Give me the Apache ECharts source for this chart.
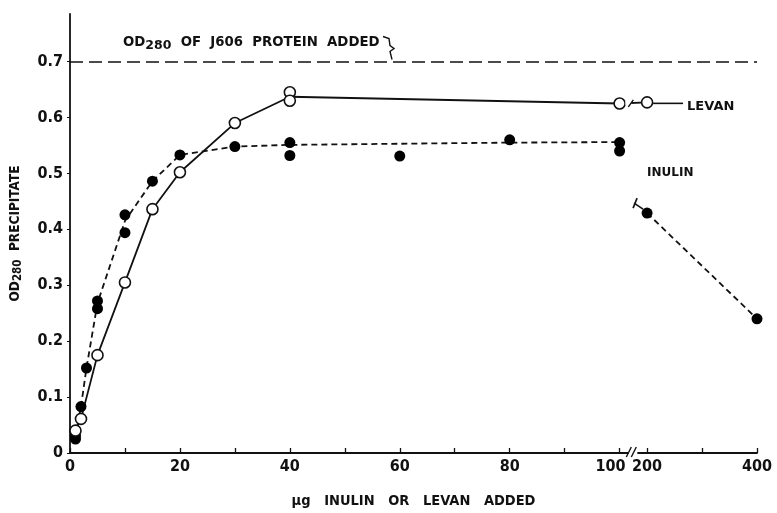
<!DOCTYPE html>
<html>
<head>
<meta charset="utf-8">
<script src="https://cdn.jsdelivr.net/npm/echarts@6/dist/echarts.min.js"></script>
<style>html,body{margin:0;padding:0;background:#fff}#c{width:777px;height:513px}</style>
</head>
<body>
<div id="c"></div>
<script>
// ---- data (x in µg, y in OD280) ----
const levanX = [1, 2, 5, 10, 15, 20, 30, 40, 40, 100, 200];
const levanY = [0.040, 0.061, 0.175, 0.305, 0.436, 0.502, 0.590, 0.645, 0.630, 0.625, 0.627];
const inulinX = [1, 1, 2, 3, 5, 5, 10, 10, 15, 20, 30, 40, 40, 60, 80, 100, 100, 200, 400];
const inulinY = [0.025, 0.031, 0.083, 0.152, 0.272, 0.258, 0.426, 0.394, 0.486, 0.533, 0.548, 0.555, 0.532, 0.531, 0.560, 0.555, 0.540, 0.429, 0.240];
// drawn curves
const levanCurveX = [1, 2, 5, 10, 15, 20, 30, 40, 100];
const levanCurveY = [0.040, 0.061, 0.175, 0.305, 0.436, 0.502, 0.590, 0.637, 0.625];
const levanBreakX = [100, 200];
const levanBreakY = [0.625, 0.627];
const inulinCurveX = [1, 2, 3, 5, 10, 15, 20, 30, 40, 60, 80, 100];
const inulinCurveY = [0.030, 0.083, 0.152, 0.268, 0.415, 0.486, 0.533, 0.548, 0.551, 0.553, 0.555, 0.556];
const inulinTailX = [200, 400];
const inulinTailY = [0.429, 0.240];
const proteinAdded = 0.7;
const xTickLabels = [0, 20, 40, 60, 80, 100, 200, 400];
const xMinorTicks = [10, 30, 50, 70, 90, 300];
const yTicks = [0, 0.1, 0.2, 0.3, 0.4, 0.5, 0.6, 0.7];

// broken x scale: 0..100 linear, then 200..400 compressed
function tx(x) { return x <= 100 ? x : 105 + (x - 200) / 10; }
function untx(t) { return t <= 100 ? t : 200 + (t - 105) * 10; }
function pts(xs, ys) { return xs.map((x, i) => [tx(x), ys[i]]); }

const FONT = 'DejaVu Sans';
const CFONT = 'DejaVu Sans Condensed';
const chart = echarts.init(document.getElementById('c'), null, {renderer: 'canvas'});

const option = {
  backgroundColor: '#fff',
  animation: false,
  grid: {left: 70, right: 20, top: 14, bottom: 60, outerBoundsMode: 'none', containLabel: false},
  xAxis: {
    type: 'value', min: 0, max: 125,
    name: 'µg   INULIN   OR   LEVAN   ADDED',
    nameLocation: 'middle', nameGap: 41,
    nameTextStyle: {fontFamily: CFONT, fontSize: 14.5, fontWeight: 'bold', color: '#111'},
    axisLine: {show: true, lineStyle: {color: '#111', width: 1.8}},
    axisTick: {show: true, inside: true, length: 5, lineStyle: {color: '#111', width: 1.3},
      customValues: xTickLabels.concat(xMinorTicks).map(tx)},
    axisLabel: {fontFamily: CFONT, fontSize: 16, fontWeight: 'bold', color: '#111', margin: 6,
      customValues: xTickLabels.map(tx),
      formatter: v => { const n = Math.round(untx(v)); return n === 100 ? '{l|100}' : String(n); },
      rich: {l: {fontFamily: CFONT, fontSize: 16, fontWeight: 'bold', color: '#111', padding: [0, 18, 0, 0]}}},
    splitLine: {show: false}
  },
  yAxis: {
    type: 'value', min: 0, max: 0.785,
    name: '{a|OD}{s|280}{a|  PRECIPITATE}',
    nameLocation: 'middle', nameGap: 46, nameRotate: 90,
    nameTextStyle: {rich: {
      a: {fontFamily: CFONT, fontSize: 13.5, fontWeight: 'bold', color: '#111', lineHeight: 16, verticalAlign: 'top'},
      s: {fontFamily: CFONT, fontSize: 11.5, fontWeight: 'bold', color: '#111', lineHeight: 16, verticalAlign: 'bottom'}
    }},
    axisLine: {show: true, lineStyle: {color: '#111', width: 1.8}},
    axisTick: {show: true, inside: false, length: 3, lineStyle: {color: '#111'}, customValues: yTicks},
    axisLabel: {fontFamily: CFONT, fontSize: 16, fontWeight: 'bold', color: '#111', margin: 7, customValues: yTicks,
      formatter: v => v === 0 ? '0' : v.toFixed(1)},
    splitLine: {show: false}
  },
  series: [
    {type: 'line', data: pts(levanCurveX, levanCurveY), symbol: 'none', z: 2,
      lineStyle: {color: '#111', width: 1.8},
      markLine: {silent: true, symbol: 'none', label: {show: false},
        lineStyle: {color: '#111', width: 1.6, type: [13, 6]},
        data: [{yAxis: proteinAdded}]}},
    {type: 'line', data: pts(levanBreakX, levanBreakY), symbol: 'none', z: 2,
      lineStyle: {color: '#111', width: 1.8}},
    {type: 'line', data: pts(inulinCurveX, inulinCurveY), symbol: 'none', z: 2,
      lineStyle: {color: '#111', width: 1.8, type: [6, 4]}},
    {type: 'line', data: pts(inulinTailX, inulinTailY), symbol: 'none', z: 2,
      lineStyle: {color: '#111', width: 1.8, type: [6, 4]}},
    {type: 'scatter', data: pts(inulinX, inulinY), symbol: 'circle', symbolSize: 11, z: 3,
      itemStyle: {color: '#000', borderColor: '#000', borderWidth: 0, opacity: 1}},
    {type: 'scatter', data: pts(levanX, levanY), symbol: 'circle', symbolSize: 11, z: 4,
      itemStyle: {color: '#fff', borderColor: '#111', borderWidth: 1.6, opacity: 1}}
  ]
};
chart.setOption(option);

// annotations positioned through the chart's own scales
const P = (x, y) => chart.convertToPixel({gridIndex: 0}, [tx(x), y]);
const ax0 = P(100, 0), ax1 = P(200, 0);
const bx = (ax0[0] + ax1[0]) / 2 - 1, by = ax0[1];
const lv100 = P(100, levanBreakY[0]), lv200 = P(200, levanBreakY[1]);
const lvs = [(lv100[0] + lv200[0]) / 2 - 2, (lv100[1] + lv200[1]) / 2];
const in200 = P(200, inulinTailY[0]);
const ref = P(60, proteinAdded);
const txtStyle = {fontFamily: FONT, fontWeight: 'bold', fill: '#111'};

chart.setOption({graphic: [
  // axis break
  {type: 'rect', shape: {x: bx - 4, y: by - 2, width: 9, height: 4}, style: {fill: '#fff'}, z: 100},
  {type: 'line', shape: {x1: bx - 6, y1: by + 4, x2: bx - 1, y2: by - 6}, style: {stroke: '#111', lineWidth: 1.4}, z: 101},
  {type: 'line', shape: {x1: bx - 1, y1: by + 4, x2: bx + 4, y2: by - 6}, style: {stroke: '#111', lineWidth: 1.4}, z: 101},
  // levan break
  {type: 'rect', shape: {x: lvs[0] - 6, y: lvs[1] - 2, width: 6, height: 4}, style: {fill: '#fff'}, z: 100},
  {type: 'line', shape: {x1: lvs[0] - 3, y1: lvs[1] + 4, x2: lvs[0] + 2, y2: lvs[1] - 3}, style: {stroke: '#111', lineWidth: 1.4}, z: 101},
  // levan leader + label
  {type: 'line', shape: {x1: lv200[0] + 6, y1: lv200[1] + 1, x2: lv200[0] + 36, y2: lv200[1] + 1}, style: {stroke: '#111', lineWidth: 1.6}, z: 101},
  {type: 'text', x: lv200[0] + 40, y: lv200[1] + 4, style: Object.assign({text: 'LEVAN', fontSize: 13, verticalAlign: 'middle'}, txtStyle), z: 101},
  // inulin tail start mark + label
  {type: 'line', shape: {x1: in200[0] - 4, y1: in200[1] - 4, x2: in200[0] - 13, y2: in200[1] - 10}, style: {stroke: '#111', lineWidth: 1.6}, z: 101},
  {type: 'line', shape: {x1: in200[0] - 14, y1: in200[1] - 5, x2: in200[0] - 10, y2: in200[1] - 15}, style: {stroke: '#111', lineWidth: 1.6}, z: 101},
  {type: 'text', x: in200[0], y: in200[1] - 40, style: Object.assign({text: 'INULIN', fontSize: 12, verticalAlign: 'middle'}, txtStyle), z: 101},
  // protein reference label
  {type: 'text', x: 123, y: ref[1] - 17, style: {
    text: '{a|OD}{s|280}{a|  OF  J606  PROTEIN  ADDED}',
    verticalAlign: 'middle',
    rich: {
      a: {fontFamily: FONT, fontWeight: 'bold', fontSize: 13.3, fill: '#111', lineHeight: 16, verticalAlign: 'top'},
      s: {fontFamily: FONT, fontWeight: 'bold', fontSize: 12.5, fill: '#111', lineHeight: 16, verticalAlign: 'bottom'}
    }}, z: 101},
  {type: 'polyline', shape: {points: [[383, ref[1] - 25], [389, ref[1] - 23], [390, ref[1] - 16], [394, ref[1] - 13], [390, ref[1] - 10], [392, ref[1] - 2]]},
    style: {stroke: '#111', lineWidth: 1.4, fill: 'none'}, z: 101}
]});
</script>
</body>
</html>
